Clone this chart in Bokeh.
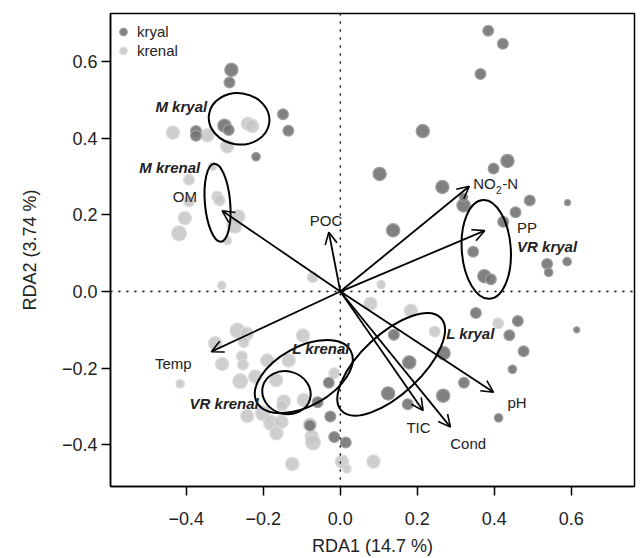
from bokeh.plotting import figure
from bokeh.models import (Range1d, FixedTicker, CustomJSTickFormatter, Span, Arrow,
                          OpenHead, ColumnDataSource, Legend, LegendItem)
from bokeh.core.properties import value
from bokeh.embed import file_html
from bokeh.resources import INLINE

# ---- site scores (RDA1, RDA2) and size class ----
kryal_x = [-0.283, -0.288, -0.149, -0.135, -0.301, -0.290, -0.375, -0.375, -0.219,
           0.384, 0.422, 0.364, 0.214, 0.102, 0.265, 0.398, 0.434, 0.320, 0.320,
           0.492, 0.590, 0.455, 0.423, 0.137, 0.345, 0.537, 0.589, 0.541, 0.374,
           0.391, 0.352, 0.461, 0.614, 0.439, 0.139, 0.268, 0.476, 0.179, 0.447,
           0.321, 0.124, 0.267, 0.175, 0.411, -0.030, -0.059, -0.026, -0.079,
           -0.016, 0.014]
kryal_y = [0.579, 0.546, 0.463, 0.420, 0.433, 0.422, 0.419, 0.407, 0.352,
           0.681, 0.647, 0.568, 0.419, 0.307, 0.273, 0.321, 0.341, 0.225, 0.246,
           0.238, 0.232, 0.207, 0.182, 0.160, 0.104, 0.072, 0.078, 0.050, 0.040,
           0.032, -0.056, -0.077, -0.100, -0.114, -0.113, -0.161, -0.156, -0.185,
           -0.203, -0.238, -0.266, -0.272, -0.294, -0.330, -0.238, -0.289, -0.326,
           -0.350, -0.380, -0.394]
kryal_cls = [4, 3, 3, 3, 4, 3, 3, 3, 2,
             3, 3, 3, 4, 4, 4, 3, 4, 4, 2,
             3, 1, 3, 3, 4, 3, 3, 2, 2, 4,
             3, 3, 3, 1, 3, 3, 4, 3, 4, 2,
             3, 4, 4, 3, 2, 3, 3, 3, 3,
             3, 3]

krenal_x = [-0.435, -0.345, -0.294, -0.240, -0.229, -0.332, -0.393, -0.320, -0.314,
            -0.393, -0.404, -0.419, -0.265, -0.275, -0.294, -0.308, -0.072, 0.106,
            0.078, 0.183, 0.410, 0.245, -0.267, -0.243, -0.325, -0.251, -0.256,
            -0.307, -0.253, -0.190, -0.134, -0.097, -0.416, -0.260, -0.221, -0.167,
            -0.016, -0.095, -0.147, -0.151, -0.242, -0.201, -0.180, -0.153, -0.166,
            -0.074, -0.071, -0.125, 0.004, 0.017, 0.086, -0.079]
krenal_y = [0.415, 0.408, 0.379, 0.438, 0.432, 0.327, 0.292, 0.248, 0.238,
            0.235, 0.192, 0.152, 0.196, 0.172, 0.133, 0.016, 0.037, 0.018,
            -0.032, -0.050, -0.083, -0.104, -0.102, -0.110, -0.135, -0.132, -0.169,
            -0.189, -0.191, -0.180, -0.180, -0.115, -0.241, -0.234, -0.222, -0.231,
            -0.213, -0.283, -0.287, -0.298, -0.325, -0.318, -0.343, -0.340, -0.370,
            -0.379, -0.394, -0.450, -0.444, -0.463, -0.444, -0.347]
krenal_cls = [4, 4, 4, 4, 4, 2, 3, 3, 3,
              3, 4, 5, 4, 5, 2, 2, 3, 2,
              4, 4, 3, 3, 5, 4, 4, 3, 3,
              4, 3, 4, 4, 4, 2, 5, 4, 4,
              3, 4, 4, 3, 4, 5, 5, 4, 4,
              4, 5, 4, 4, 2, 4, 4]

# ---- environmental vectors ----
env_names = ["OM", "POC", "NO2-N", "PP", "Temp", "pH", "Cond", "TIC"]
env_x = [-0.307, -0.030, 0.335, 0.375, -0.335, 0.398, 0.286, 0.215]
env_y = [0.211, 0.155, 0.275, 0.159, -0.157, -0.263, -0.354, -0.311]
env_lab_x = [-0.404, -0.037, 0.345, 0.485, -0.434, 0.459, 0.332, 0.203]
env_lab_y = [0.248, 0.185, 0.282, 0.168, -0.188, -0.289, -0.396, -0.356]

# ---- group ellipses ----
ell_names = ["M kryal", "M krenal", "VR kryal", "L kryal", "L krenal", "VR krenal"]
ell_x = [-0.263, -0.319, 0.379, 0.132, -0.095, -0.140]
ell_y = [0.451, 0.232, 0.110, -0.190, -0.222, -0.264]
ell_w = [0.158, 0.203, 0.257, 0.353, 0.278, 0.127]
ell_h = [0.134, 0.066, 0.128, 0.157, 0.154, 0.111]
ell_ang = [-8, 95, 94, 43, 29, -15]
ell_lab_x = [-0.346, -0.364, 0.459, 0.275, -0.125, -0.212]
ell_lab_y = [0.483, 0.325, 0.117, -0.110, -0.148, -0.292]
ell_lab_align = ["right", "right", "left", "left", "left", "right"]

x_ticks = [-0.4, -0.2, 0.0, 0.2, 0.4, 0.6]
y_ticks = [-0.4, -0.2, 0.0, 0.2, 0.4, 0.6]

FONT = "Liberation Sans"
TXT = "#222222"
size_map = {1: 6, 2: 8.5, 3: 10.8, 4: 13.3, 5: 15}

p = figure(width=644, height=558, output_backend="svg", toolbar_location=None,
           x_range=Range1d(-0.597, 0.764), y_range=Range1d(-0.509, 0.726),
           min_border_left=110, min_border_right=10, min_border_top=13,
           min_border_bottom=72)
p.grid.visible = False
p.outline_line_color = "black"
p.outline_line_width = 1.5
p.background_fill_color = "white"
p.border_fill_color = "white"

fmt = CustomJSTickFormatter(code="return tick.toFixed(1).replace('-', '\u2212');")
for ax, ticks in ((p.xaxis, x_ticks), (p.yaxis, y_ticks)):
    ax.ticker = FixedTicker(ticks=ticks)
    ax.formatter = fmt
    ax.major_tick_in = 0
    ax.major_tick_out = 9
    ax.major_tick_line_width = 1.5
    ax.minor_tick_line_color = None
    ax.axis_line_width = 1.5
    ax.axis_line_color = "black"
    ax.major_tick_line_color = "black"
    ax.major_label_text_font = FONT
    ax.major_label_text_font_size = "18px"
    ax.major_label_text_color = TXT
    ax.axis_label_text_font = FONT
    ax.axis_label_text_font_size = "18px"
    ax.axis_label_text_font_style = "normal"
    ax.axis_label_text_color = TXT

p.xaxis.axis_label = "RDA1 (14.7 %)"
p.yaxis.axis_label = "RDA2 (3.74 %)"
p.xaxis.major_label_standoff = 16
p.xaxis.axis_label_standoff = 8
p.yaxis.major_label_standoff = 4
p.yaxis.axis_label_standoff = 19

# dotted zero lines
p.add_layout(Span(location=0, dimension="width", line_color="black",
                  line_dash="2 6", line_width=1.4))
p.add_layout(Span(location=0, dimension="height", line_color="black",
                  line_dash="2 6", line_width=1.4))

src_kn = ColumnDataSource(dict(x=krenal_x, y=krenal_y,
                               s=[size_map[c] for c in krenal_cls]))
src_ky = ColumnDataSource(dict(x=kryal_x, y=kryal_y,
                               s=[size_map[c] for c in kryal_cls]))
rn = p.scatter("x", "y", size="s", source=src_kn, fill_color="#c6c6c6",
               line_color="#dcdcdc", line_width=1.2, fill_alpha=0.85)
rk = p.scatter("x", "y", size="s", source=src_ky, fill_color="#737373",
               line_color="#a0a0a0", line_width=1.2, fill_alpha=0.9)

leg = Legend(items=[LegendItem(label="kryal", renderers=[rk], index=0),
                    LegendItem(label="krenal", renderers=[rn], index=0)],
             location=(3, 426), margin=0, padding=0, spacing=0,
             glyph_width=20, glyph_height=19, label_height=19, label_standoff=4,
             label_text_font=FONT, label_text_font_size="15px",
             label_text_color=TXT, border_line_color=None,
             background_fill_alpha=0)
p.add_layout(leg)

# ellipses
p.ellipse(x=ell_x, y=ell_y, width=ell_w, height=ell_h, angle=ell_ang,
          angle_units="deg", fill_color=None, line_color="black", line_width=2)
p.text(x=ell_lab_x, y=ell_lab_y, text=ell_names, text_align=ell_lab_align,
       text_baseline="middle", text_font=value(FONT), text_font_size="15px",
       text_font_style="bold italic", text_color=TXT)

# arrows
arr_src = ColumnDataSource(dict(x0=[0.0] * len(env_x), y0=[0.0] * len(env_y),
                                x1=env_x, y1=env_y))
p.add_layout(Arrow(source=arr_src, x_start="x0", y_start="y0", x_end="x1", y_end="y1",
                   line_width=1.8, line_color="black",
                   end=OpenHead(size=12, line_width=1.6, line_color="black")))

plain = [i for i, n in enumerate(env_names) if n != "NO2-N"]
p.text(x=[env_lab_x[i] for i in plain], y=[env_lab_y[i] for i in plain],
       text=[env_names[i] for i in plain], text_align="center",
       text_baseline="middle", text_font=value(FONT), text_font_size="15px",
       text_color=TXT)
k = env_names.index("NO2-N")
p.text(x=[env_lab_x[k]], y=[env_lab_y[k]], text=["NO"], text_align="left",
       text_baseline="middle", text_font=value(FONT), text_font_size="15px",
       text_color=TXT)
p.text(x=[env_lab_x[k]], y=[env_lab_y[k]], text=["2"], text_align="left",
       text_baseline="middle", x_offset=22.7, y_offset=6, text_font=value(FONT),
       text_font_size="10px", text_color=TXT)
p.text(x=[env_lab_x[k]], y=[env_lab_y[k]], text=["-N"], text_align="left",
       text_baseline="middle", x_offset=29, text_font=value(FONT),
       text_font_size="15px", text_color=TXT)

open("out.html", "w").write(file_html(p, INLINE))
